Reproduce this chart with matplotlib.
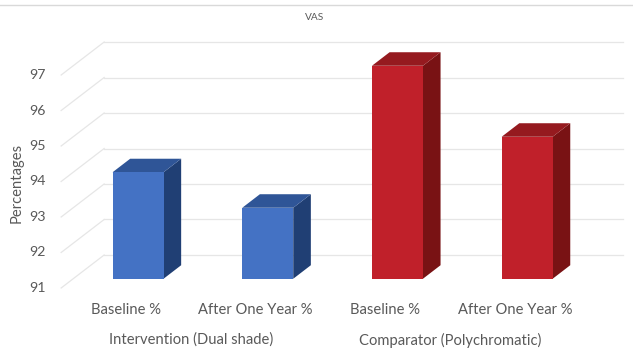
import matplotlib
matplotlib.use("Agg")
import matplotlib.pyplot as plt
from matplotlib.patches import Polygon
from matplotlib.lines import Line2D

# data
categories = ['Baseline %', 'After One Year %', 'Baseline %', 'After One Year %']
values = [94, 93, 97, 95]
groups = ['Intervention (Dual shade)', 'Comparator (Polychromatic)']
ticks = [91, 92, 93, 94, 95, 96, 97]

blue = ('#4472C4', '#2F5597', '#203F74')   # front, top, side
red = ('#C0202A', '#951A1F', '#791214')
bar_colors = [blue, blue, red, red]

plt.rcParams['font.family'] = ['Lato', 'DejaVu Sans']
text_col = '#595959'

fig = plt.figure(figsize=(6.33, 3.51), dpi=100)
ax = fig.add_axes([0, 0, 1, 1])
ax.set_xlim(-0.9715, 3.909)
ax.set_ylim(89.225, 99.113)
ax.axis('off')

# oblique depth offset (full depth of the floor)
DX, DV = 0.3315, 0.9296
f_dep, b_dep = 0.28, 0.69
width = 0.393
base = ticks[0]

# walls: back gridlines + side diagonals
for v in ticks:
    ax.plot([-0.5 + DX, 3.5 + DX], [v + DV, v + DV], color='#e6e6e6', lw=0.9, zorder=1)
    ax.plot([-0.5, -0.5 + DX], [v, v + DV], color='#e6e6e6', lw=0.9, zorder=1)
    ax.text(-0.62, v, str(v), ha='right', va='center', fontsize=10.2, color=text_col)

# 3d bars
dd = b_dep - f_dep
for i, (val, cols) in enumerate(zip(values, bar_colors)):
    x0 = i - width / 2 + f_dep * DX
    x1 = i + width / 2 + f_dep * DX
    y0 = base + f_dep * DV
    y1 = val + f_dep * DV
    front = [(x0, y0), (x1, y0), (x1, y1), (x0, y1)]
    top = [(x0, y1), (x1, y1), (x1 + dd * DX, y1 + dd * DV), (x0 + dd * DX, y1 + dd * DV)]
    side = [(x1, y0), (x1 + dd * DX, y0 + dd * DV), (x1 + dd * DX, y1 + dd * DV), (x1, y1)]
    ax.add_patch(Polygon(side, closed=True, facecolor=cols[2], edgecolor='none', zorder=3))
    ax.add_patch(Polygon(top, closed=True, facecolor=cols[1], edgecolor='none', zorder=3))
    ax.add_patch(Polygon(front, closed=True, facecolor=cols[0], edgecolor='none', zorder=4))

for i, lab in enumerate(categories):
    ax.text(i, 90.38, lab, ha='center', va='center', fontsize=10.6, color=text_col)
for g, lab in enumerate(groups):
    ax.text(2 * g + 0.5, 89.535, lab, ha='center', va='center', fontsize=10.6, color=text_col)

ax.text(-0.84, 93.96, 'Percentages', rotation=90, ha='center', va='center',
        fontsize=10.6, color=text_col)
fig.text(315 / 633, 1 - 18 / 351, 'VAS', ha='center', va='center', fontsize=7.3, color=text_col)
fig.add_artist(Line2D([0, 1], [1 - 5 / 351, 1 - 5 / 351], color='#d9d9d9', lw=1))

fig.savefig('out.png', dpi=100)
